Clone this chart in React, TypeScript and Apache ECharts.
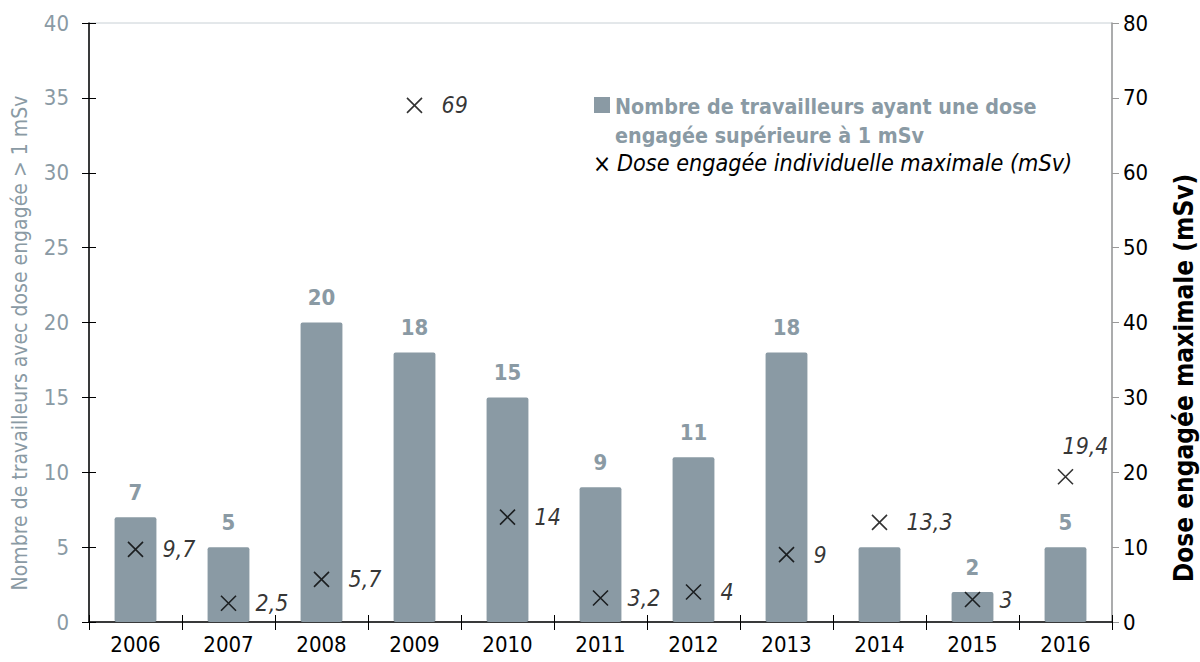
import React, { useEffect, useRef } from "react";
import * as echarts from "echarts";

const years = ["2006", "2007", "2008", "2009", "2010", "2011", "2012", "2013", "2014", "2015", "2016"];
const workers = [7, 5, 20, 18, 15, 9, 11, 18, 5, 2, 5];
const maxDose = [9.7, 2.5, 5.7, 69, 14, 3.2, 4, 9, 13.3, 3, 19.4];
const hiddenBarLabels = ["2014"];
const leftTicks = { min: 0, max: 40, interval: 5 };
const rightTicks = { min: 0, max: 80, interval: 10 };

const GREY = "#8a9aa4";
const FONT = "'DejaVu Sans Condensed', 'Liberation Sans', sans-serif";

export default function App() {
  const ref = useRef<HTMLDivElement>(null);
  useEffect(() => {
    document.body.style.margin = "0";
    if (!ref.current) return;
    const chart = echarts.init(ref.current, undefined, { renderer: "svg" });
    const cross = "path://M0,0L10,10M10,0L0,10";
    chart.setOption({
      animation: false,
      textStyle: { fontFamily: FONT },
      grid: {
        left: 89, right: 88, top: 23, bottom: 40,
        show: true, borderColor: "#c8d0d5", borderWidth: 1,
      },
      xAxis: [
        {
          type: "category", data: years,
          axisLine: { lineStyle: { color: "#000", width: 1.5 } },
          axisTick: { show: true, length: 8, lineStyle: { color: "#000" } },
          axisLabel: { color: "#000", fontSize: 22, margin: 11, fontFamily: FONT },
        },
        {
          type: "category", data: years, position: "bottom", gridIndex: 0,
          axisLine: { show: false },
          axisTick: { show: true, inside: true, length: 7, lineStyle: { color: "#000" } },
          axisLabel: { show: false },
        },
      ],
      yAxis: [
        {
          type: "value", ...leftTicks, position: "left",
          axisLine: { show: true, lineStyle: { color: "#000", width: 1.5 } },
          axisTick: { show: true, length: 7, lineStyle: { color: "#000" } },
          axisLabel: { color: GREY, fontSize: 22, margin: 20, fontFamily: FONT },
          splitLine: { show: false },
        },
        {
          type: "value", ...rightTicks, position: "right",
          axisLine: { show: true, lineStyle: { color: "#999", width: 1.5 } },
          axisTick: { show: true, length: 7, lineStyle: { color: "#999" } },
          axisLabel: { color: "#000", fontSize: 22, margin: 11, fontFamily: FONT },
          splitLine: { show: false },
        },
        {
          type: "value", ...leftTicks, position: "left",
          axisLine: { show: false },
          axisTick: { show: true, inside: true, length: 7, lineStyle: { color: "#000" } },
          axisLabel: { show: false },
          splitLine: { show: false },
        },
      ],
      series: [
        {
          type: "bar", yAxisIndex: 0, barWidth: "45%",
          data: workers.map((v, i) => ({
            value: v,
            label: hiddenBarLabels.includes(years[i]) ? { show: false } : undefined,
          })),
          itemStyle: { color: GREY, borderRadius: 2 },
          label: {
            show: true, position: "top", distance: 14, color: GREY,
            fontSize: 22, fontWeight: "bold", fontFamily: FONT,
          },
        },
        {
          type: "scatter", yAxisIndex: 1, symbol: cross, symbolSize: 15,
          itemStyle: { color: "none", borderColor: "#000", borderWidth: 1.6 },
          data: maxDose.map((v, i) => ({
            value: v,
            label: i === 10 ? { position: "top", distance: 9, offset: [20, 0] } : undefined,
          })),
          label: {
            show: true, position: "right", distance: 17, color: "#000",
            fontSize: 23, fontStyle: "italic", fontFamily: FONT,
            formatter: (p: any) => String(p.value).replace(".", ","),
          },
        },
      ],
      graphic: [
        {
          type: "text", x: 20, y: 343, rotation: Math.PI / 2,
          style: {
            text: "Nombre de travailleurs avec dose engagée > 1 mSv",
            fill: GREY, fontSize: 21, fontFamily: FONT, align: "center", verticalAlign: "middle",
          },
        },
        {
          type: "text", x: 1184, y: 378, rotation: Math.PI / 2,
          style: {
            text: "Dose engagée maximale (mSv)",
            fill: "#000", fontSize: 26, fontWeight: "bold", fontFamily: FONT, align: "center", verticalAlign: "middle",
          },
        },
        { type: "rect", shape: { x: 594, y: 97, width: 16, height: 16 }, style: { fill: GREY } },
        {
          type: "text", x: 615, y: 92,
          style: {
            text: "Nombre de travailleurs ayant une dose\nengagée supérieure à 1 mSv",
            fill: GREY, fontSize: 21.3, fontWeight: "bold", fontFamily: FONT, lineHeight: 29,
          },
        },
        {
          type: "text", x: 593, y: 152,
          style: { text: "×", fill: "#000", fontSize: 24, fontFamily: FONT },
        },
        {
          type: "text", x: 617, y: 151,
          style: {
            text: "Dose engagée individuelle maximale (mSv)",
            fill: "#000", fontSize: 23.2, fontStyle: "italic", fontFamily: FONT,
          },
        },
      ],
    });
    return () => chart.dispose();
  }, []);
  return <div ref={ref} style={{ width: 1200, height: 662 }} />;
}
